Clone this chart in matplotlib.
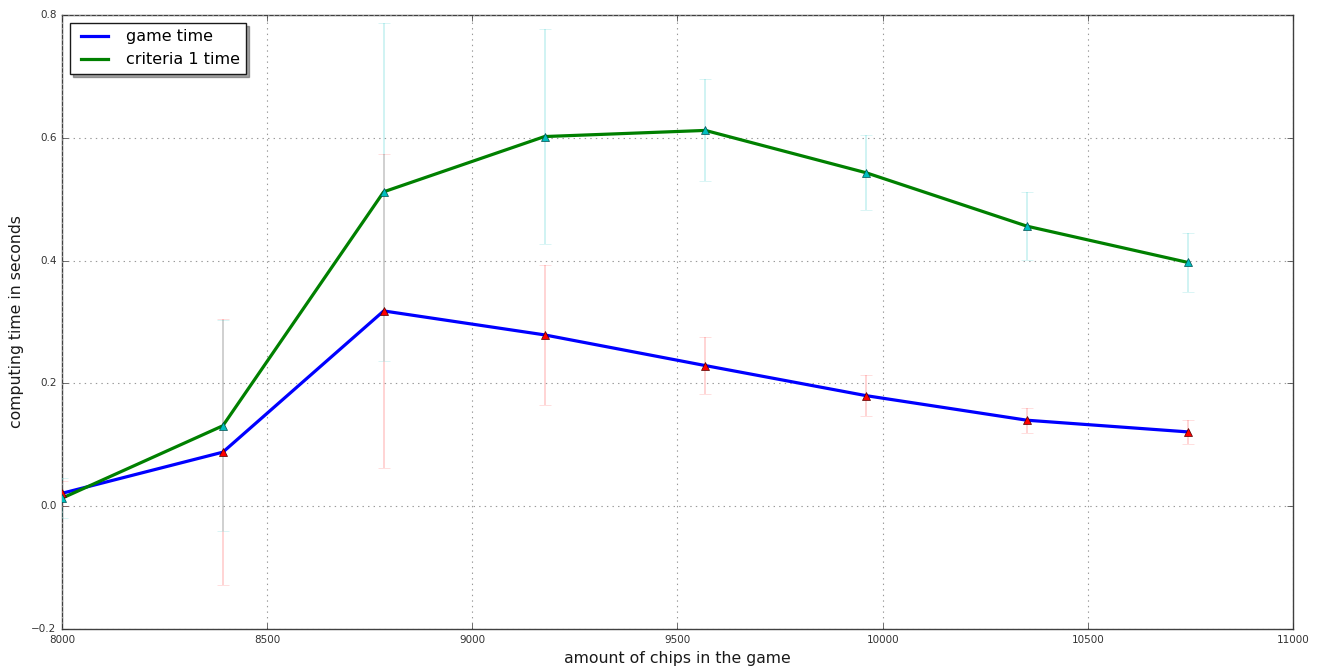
import matplotlib
matplotlib.use('Agg')
import matplotlib.pyplot as plt

# Dane
chips = [8000, 8392, 8784, 9176, 9568, 9960, 10352, 10744]   # liczba żetonów w grze

game_time = [0.021, 0.088, 0.318, 0.279, 0.229, 0.180, 0.140, 0.121]
game_err = [0.020, 0.217, 0.256, 0.114, 0.046, 0.033, 0.020, 0.020]

crit_time = [0.013, 0.131, 0.512, 0.602, 0.612, 0.543, 0.456, 0.397]
crit_err = [0.033, 0.172, 0.275, 0.175, 0.083, 0.061, 0.055, 0.048]

plt.style.use('classic')
plt.rcParams['font.family'] = 'DejaVu Sans'

fig = plt.figure(figsize=(13.25, 6.72), dpi=100)
ax = fig.add_axes([0.0468, 0.064, 0.929, 0.9137])

# Linie
ax.plot(chips, game_time, '-', color='b', lw=2.3, label='game time', zorder=3)
ax.plot(chips, crit_time, '-', color='g', lw=2.3, label='criteria 1 time', zorder=3)

# Słupki błędów z markerami
ax.errorbar(chips, game_time, yerr=game_err, fmt='^', color='r', ecolor=(1, 0, 0, 0.18),
            elinewidth=1.3, capthick=1.3,
            mec=(0.3, 0, 0), mew=0.5, ms=6, capsize=4, zorder=4)
ax.errorbar(chips, crit_time, yerr=crit_err, fmt='^', color='c', ecolor=(0, 0.75, 0.75, 0.2),
            elinewidth=1.3, capthick=1.3,
            mec=(0, 0.3, 0.3), mew=0.5, ms=6, capsize=4, zorder=4)

ax.set_xlim(8000, 11000)
ax.set_ylim(-0.2, 0.8)
ax.set_xticks([8000, 8500, 9000, 9500, 10000, 10500, 11000])
ax.set_yticks([-0.2, 0.0, 0.2, 0.4, 0.6, 0.8])
ax.tick_params(labelsize=7.5, colors='0.2')
ax.grid(True, color='0.6', linestyle=':', lw=0.8)

for s in ax.spines.values():
    s.set_color('0.25')

ax.set_xlabel('amount of chips in the game', fontsize=11.3, color='0.1', labelpad=5)
ax.set_ylabel('computing time in seconds', fontsize=11.3, color='0.1', labelpad=5)

leg = ax.legend(loc='upper left', fontsize=11.5, shadow=True, fancybox=False,
                handlelength=2.3, borderaxespad=0.5)
leg.get_frame().set_edgecolor('0.1')

fig.savefig('out.png', dpi=100)
